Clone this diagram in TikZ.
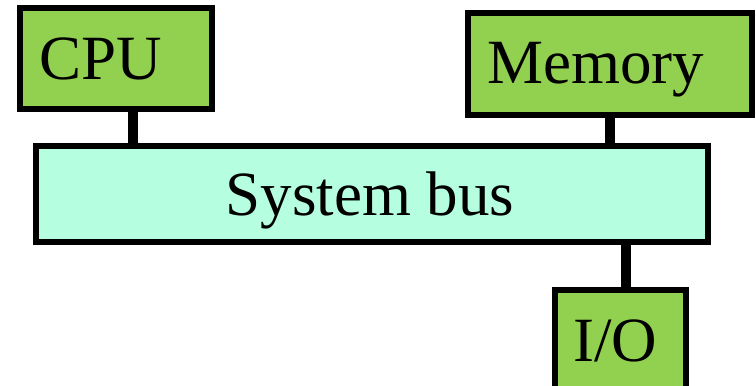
\documentclass[tikz,border=0pt]{standalone}
\usepackage{fontspec}
\setmainfont{Liberation Serif}
\usetikzlibrary{positioning}
\definecolor{unitgreen}{HTML}{92D050}
\definecolor{busaqua}{HTML}{B5FFE0}
\begin{document}
\begin{tikzpicture}[x=1pt,y=1pt,
  unitbox/.style={draw=black, line width=6pt, fill=unitgreen, inner sep=0pt},
  busbox/.style={draw=black, line width=6pt, fill=busaqua, inner sep=0pt},
  boxtext/.style={inner sep=0pt, anchor=base west, font=\fontsize{63}{75}\selectfont},
  conn/.style={draw=black, line width=10pt}]
\useasboundingbox (0,0) rectangle (756,-386);
\clip (0,0) rectangle (756,-386);

% connectors run underneath the boxes
\coordinate (cpuport) at (133,-109);
\coordinate (ioport) at (626,-290);

% units and bus
\node[unitbox, minimum width=192pt, minimum height=101pt] (cpu) at (116,-58.5) {};
\node[unitbox, minimum width=284pt, minimum height=102pt] (mem) at (610,-64) {};
\node[busbox, minimum width=672pt, minimum height=96pt] (bus) at (372,-194) {};
\node[unitbox, minimum width=131pt, minimum height=110pt] (io) at (620.5,-345) {};

\draw[conn] ([xshift=17pt]cpu.south) -- ([xshift=17pt]cpu.south |- bus.north);
\draw[conn] (mem.south) -- (mem.south |- bus.north);
\draw[conn] ([xshift=5.5pt]io.north) -- ([xshift=5.5pt]io.north |- bus.south);

% labels
\node[boxtext] (cpulabel) at (39,-79) {CPU};
\node[boxtext] (memlabel) at (487,-83) {Memory};
\node[boxtext] (buslabel) at (225.5,-215) {System bus};
\node[boxtext] (iolabel) at (573,-361) {I/O};
\end{tikzpicture}
\end{document}
